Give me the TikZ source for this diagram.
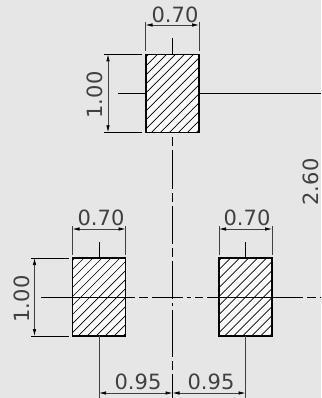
\documentclass[tikz,border=0pt]{standalone}
\usepackage{fontspec}
\setmainfont{DejaVu Sans}
\usetikzlibrary{arrows.meta,calc}
\definecolor{paper}{HTML}{E6E6E6}
\definecolor{ink}{HTML}{404040}
\newcommand{\pad}[3]{\node[padbox] (#1) at (#2,#3) {};}
\newcommand{\ext}[2]{\draw[extline] (#1) -- (#2);}
\newcommand{\stub}[2]{\draw[stubline] (#1) -- (#2);}
\newcommand{\sizeline}[2]{\draw[dimline] (#1) -- (#2);}
\tikzset{
  padbox/.style={draw=black,fill=white!85!paper,line width=1.3pt,minimum width=53pt,minimum height=78pt,inner sep=0pt,outer sep=0pt,
    path picture={\foreach \k in {-9,...,9} \draw[black,line width=0.7pt] ($(path picture bounding box.center)+(\k*9-60,60)$) -- ++(120,-120);}},
  extline/.style={ink,line width=0.8pt},
  stubline/.style={black,line width=0.8pt},
  dimline/.style={ink,line width=0.7pt,{Latex[length=7pt,width=3.5pt,black]}-{Latex[length=7pt,width=3.5pt,black]}},
  size/.style={text=ink,font=\fontsize{21}{21}\selectfont,inner sep=0pt}
}
\begin{document}
\begin{tikzpicture}[x=1pt,y=-1pt]
    \useasboundingbox (0,0) rectangle (321,398);
    \fill[paper] (0,0) rectangle (321,398);
    \pad{padT}{172.5}{93.3} \pad{padL}{99}{297} \pad{padR}{245.5}{297}
    % centre lines
    \coordinate (hL) at (41,297); \coordinate (hR) at (321,297);
    \coordinate (vT) at (172.5,137); \coordinate (vB) at (172.5,398);
    \draw[black,line width=0.8pt,dash pattern=on 94pt off 4pt on 9pt off 4pt on 31pt off 4pt on 4pt off 4pt on 8pt off 4pt on 96pt off 4pt on 9pt off 4pt on 10pt] (hL) -- (hR);
    \draw[black,line width=0.8pt,dash pattern=on 9pt off 4pt on 39pt off 4pt on 9pt off 4pt on 38pt off 4pt on 9pt off 4pt on 38pt off 4pt on 3pt off 4pt on 47pt off 4pt on 9pt off 4pt on 24pt] (vT) -- (vB);
    % top pad
    \coordinate (tN) at (172.5,38); \coordinate (tW) at (118.3,93.3); \coordinate (tE) at (321,93.3);
    \stub{padT.north}{tN} \stub{padT.west}{tW} \stub{padT.east}{tE}
    \coordinate (tA) at (145.5,22); \coordinate (tB) at (145.5,51);
    \coordinate (tC) at (199,22); \coordinate (tD) at (199,51);
    \ext{tA}{tB} \ext{tC}{tD}
    \coordinate (tWa) at (145.5,25); \coordinate (tWb) at (199,25); \sizeline{tWa}{tWb}
    \node[size] (wT) at (175,14.5) {0.70};
    \coordinate (tF) at (104,54.3); \coordinate (tG) at (142,54.3);
    \coordinate (tH) at (104,132.3); \coordinate (tI) at (142,132.3);
    \draw[stubline] (tF) -- (tG); \draw[stubline] (tH) -- (tI);
    \coordinate (tHa) at (108,54.3); \coordinate (tHb) at (108,132.3); \sizeline{tHa}{tHb}
    \node[size,rotate=90] (hT) at (95,95) {1.00};
    % left pad
    \coordinate (lN) at (99,242); \coordinate (lS) at (99,398);
    \stub{padL.north}{lN} \ext{padL.south}{lS}
    \coordinate (lA) at (72.5,226); \coordinate (lB) at (72.5,255);
    \coordinate (lC) at (125.5,226); \coordinate (lD) at (125.5,255);
    \ext{lA}{lB} \ext{lC}{lD}
    \coordinate (lWa) at (72.5,229); \coordinate (lWb) at (125.5,229); \sizeline{lWa}{lWb}
    \node[size] (wL) at (101,218) {0.70};
    \coordinate (lF) at (31,258); \coordinate (lG) at (69,258);
    \coordinate (lH) at (31,336); \coordinate (lI) at (69,336);
    \draw[stubline] (lF) -- (lG); \draw[stubline] (lH) -- (lI);
    \coordinate (lHa) at (34.5,258); \coordinate (lHb) at (34.5,336); \sizeline{lHa}{lHb}
    \node[size,rotate=90] (hL1) at (22,299) {1.00};
    % right pad
    \coordinate (rN) at (245.5,242); \coordinate (rS) at (245.5,398);
    \stub{padR.north}{rN} \ext{padR.south}{rS}
    \coordinate (rA) at (219,226); \coordinate (rB) at (219,255);
    \coordinate (rC) at (272,226); \coordinate (rD) at (272,255);
    \ext{rA}{rB} \ext{rC}{rD}
    \coordinate (rWa) at (219,229); \coordinate (rWb) at (272,229); \sizeline{rWa}{rWb}
    \node[size] (wR) at (247,218) {0.70};
    % pitch
    \coordinate (pL) at (99,393); \coordinate (pM) at (172.5,393); \coordinate (pR) at (245.5,393);
    \sizeline{pL}{pM} \sizeline{pM}{pR}
    \node[size] (pA) at (138,382) {0.95}; \node[size] (pB) at (211,382) {0.95};
    \node[size,rotate=90] (span) at (310.5,182) {2.60};
\end{tikzpicture}
\end{document}
